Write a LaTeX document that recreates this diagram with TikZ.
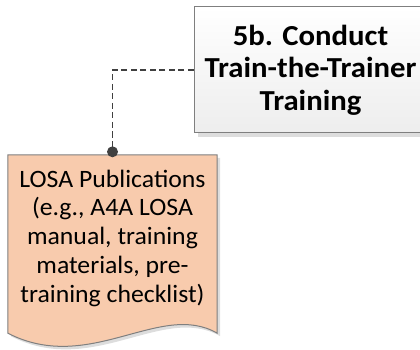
\documentclass[tikz,border=0pt]{standalone}
\usepackage{fontspec}
\setmainfont{Carlito}
\newfontfamily\boxfont[FakeStretch=1.06]{Carlito}
\newfontfamily\docfont[FakeStretch=1.03]{Carlito}
\usetikzlibrary{backgrounds}
\definecolor{peach}{HTML}{F8CBAD}
\definecolor{edgegray}{HTML}{7F7F7F}
\definecolor{conn}{HTML}{404040}
\definecolor{shadowgray}{HTML}{DDDDDD}
\tikzset{
  taskbox/.style={draw=edgegray, line width=1pt, top color=white, bottom color=gray!14,
    minimum width=233pt, minimum height=126pt, inner sep=0pt, align=center,
    font=\boxfont\bfseries\fontsize{29}{32.5}\selectfont},
  doctext/.style={minimum width=209pt, minimum height=166pt, inner sep=0pt, align=center,
    font=\docfont\fontsize{25}{28.75}\selectfont},
  docshape/.style={fill=peach, draw=edgegray, line width=1pt},
  connector/.style={draw=conn, line width=1.7pt, dash pattern=on 6pt off 3.5pt},
  dotend/.style={fill=conn}
}
\begin{document}
\begin{tikzpicture}[x=1pt,y=-1pt]
\useasboundingbox (0,0) rectangle (420,350);
\clip (0,0) rectangle (420,350);
% box shadow
\fill[shadowgray] (198,11) rectangle (434,137);
\node[taskbox] (task) at (310.5,70) {5b. Conduct\\Train-the-Trainer\\Training};
% document node: top edge at y=155, straight sides down to y=333
\node[doctext] (doc) at (112.5,238) {LOSA Publications\\(e.g., A4A LOSA\\manual, training\\materials, pre-\\training checklist)};
\coordinate (docNW) at (doc.north west);
\coordinate (docNE) at (doc.north east);
\coordinate (docSE) at ([yshift=-12pt]doc.south east);
\coordinate (docSW) at ([yshift=-12pt]doc.south west);
\begin{scope}[on background layer]
\fill[shadowgray] ([xshift=3pt,yshift=-3pt]docNW) -- ([xshift=3pt,yshift=-3pt]docNE) -- ([xshift=3pt,yshift=-3pt]docSE)
  .. controls +(-57,-33) and +(82,42) .. ([xshift=3pt,yshift=-3pt]docSW) -- cycle;
\path[docshape] (docNW) -- (docNE) -- (docSE)
  .. controls +(-57,-33) and +(82,42) .. (docSW) -- cycle;
\end{scope}
\coordinate (dotc) at ([yshift=3pt]doc.north);
\draw[connector] (task.west) -| (dotc);
\fill[dotend] (dotc) circle (5.5pt);
\end{tikzpicture}
\end{document}
